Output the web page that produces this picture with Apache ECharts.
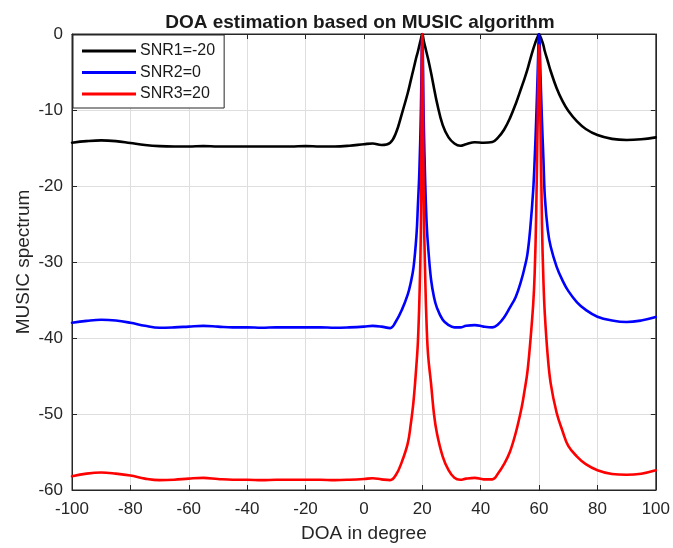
<!DOCTYPE html>
<html>
<head>
<meta charset="utf-8">
<script src="https://cdn.jsdelivr.net/npm/echarts@6/dist/echarts.min.js"></script>
<style>
html,body{margin:0;padding:0;background:#fff;}
#chart{width:673px;height:548px;}
</style>
</head>
<body>
<div id="chart"></div>
<script>
const doa = [-100,-95,-90,-85,-80,-75,-70,-65,-60,-55,-50,-45,-40,-35,-30,-25,-20,-15,-10,-5,0,3,6,9,11,13,15,16,17,18,18.5,19,19.5,20,20.5,21,21.5,22,23,24,25,27,29,31,33,35,38,41,44,46,48,50,52,54,55,56,57,58,58.5,59,59.5,60,60.5,61,61.5,62,63,64,66,68,70,73,76,80,85,90,95,100];
const snr1 = [-14.3,-14.1,-14.0,-14.1,-14.35,-14.6,-14.75,-14.8,-14.8,-14.75,-14.8,-14.8,-14.8,-14.8,-14.8,-14.8,-14.75,-14.8,-14.8,-14.7,-14.5,-14.4,-14.6,-14.3,-13.0,-10.5,-7.8,-6.2,-4.6,-3.0,-2.3,-1.5,-0.7,0,-0.9,-1.7,-2.5,-3.3,-5.1,-7.1,-9.0,-12.0,-13.6,-14.4,-14.7,-14.5,-14.25,-14.3,-14.2,-13.6,-12.6,-11.1,-9.2,-7.0,-5.9,-4.7,-3.3,-2.0,-1.4,-0.85,-0.4,0,-0.4,-0.9,-1.5,-2.3,-3.6,-4.9,-7.1,-8.8,-10.1,-11.5,-12.5,-13.3,-13.8,-13.95,-13.85,-13.6];
const snr2 = [-38.0,-37.75,-37.6,-37.7,-38.0,-38.4,-38.65,-38.6,-38.5,-38.4,-38.5,-38.6,-38.6,-38.65,-38.6,-38.6,-38.6,-38.6,-38.65,-38.6,-38.5,-38.4,-38.5,-38.7,-37.8,-36.3,-34.3,-32.8,-30.7,-26.5,-22.5,-18.0,-10.5,0,-11.5,-19.5,-25.0,-28.0,-32.3,-34.6,-36.0,-37.6,-38.3,-38.6,-38.6,-38.4,-38.3,-38.5,-38.6,-38.2,-37.3,-36.0,-34.6,-32.3,-30.8,-29.0,-25.5,-20.5,-16.5,-11.5,-5.5,0,-5.5,-11.5,-16.5,-21.5,-25.8,-28.0,-30.6,-32.4,-33.8,-35.3,-36.3,-37.2,-37.7,-37.9,-37.7,-37.25];
const snr3 = [-58.2,-57.85,-57.7,-57.85,-58.1,-58.5,-58.7,-58.65,-58.5,-58.4,-58.55,-58.65,-58.65,-58.7,-58.65,-58.65,-58.65,-58.65,-58.7,-58.65,-58.55,-58.45,-58.6,-58.7,-58.0,-56.3,-53.9,-51.5,-48.3,-43.5,-40.5,-35.0,-26.0,0,-22.0,-32.0,-38.5,-42.3,-46.0,-50.0,-52.5,-55.6,-57.4,-58.4,-58.65,-58.5,-58.4,-58.6,-58.6,-57.8,-56.6,-55.0,-52.5,-49.2,-47.0,-44.5,-40.5,-35.5,-31.5,-24.0,-12.0,-1.5,-12.0,-25.0,-32.5,-37.0,-42.5,-46.0,-49.8,-52.2,-54.2,-55.6,-56.6,-57.4,-57.9,-58.0,-57.85,-57.4];
const seriesNames = ['SNR1=-20','SNR2=0','SNR3=20'];
const seriesColors = ['#000000','#0000ff','#ff0000'];
const titleText = 'DOA estimation based on MUSIC algorithm';
const xName = 'DOA in degree';
const yName = 'MUSIC spectrum';

const FONT = '"Liberation Sans", Arial, sans-serif';
const axisColor = '#262626';
const gridColor = '#dedede';
const chart = echarts.init(document.getElementById('chart'), null, {renderer:'canvas'});
const allData = [snr1, snr2, snr3];
const series = allData.map((arr, k) => ({
  name: seriesNames[k],
  type: 'line',
  data: doa.map((x, i) => [x, arr[i]]),
  symbol: 'none',
  smooth: 0.4,
  lineStyle: {color: seriesColors[k], width: 2.6, join: 'round', cap: 'round'},
  itemStyle: {color: seriesColors[k]},
  z: 2 + k,
  animation: false
}));
const tickStyle = {show: true, inside: true, length: 5, lineStyle: {color: axisColor}};
const lineStyleAx = {show: true, onZero: false, lineStyle: {color: axisColor, width: 1}};
chart.setOption({
  backgroundColor: '#ffffff',
  animation: false,
  title: {
    text: titleText, left: 355, top: 8, textAlign: 'center',
    textStyle: {fontFamily: FONT, fontSize: 19, fontWeight: 'bold', color: '#1a1a1a'}
  },
  legend: {
    orient: 'vertical', left: 73, top: 35,
    itemWidth: 54, itemHeight: 3, itemGap: 5.5,
    icon: 'rect',
    padding: [8, 9, 6, 9],
    borderColor: axisColor, borderWidth: 1,
    backgroundColor: '#ffffff',
    textStyle: {fontFamily: FONT, fontSize: 16, color: '#1a1a1a', padding: [0, 0, 0, -1]},
    data: seriesNames
  },
  grid: {left: 72, right: 15, top: 34, bottom: 58, show: true, borderColor: axisColor, borderWidth: 1, backgroundColor: 'transparent'},
  xAxis: [
    {
      type: 'value', min: -100, max: 100, interval: 20,
      position: 'bottom',
      name: xName, nameLocation: 'middle', nameGap: 34, nameMoveOverlap: false,
      nameTextStyle: {fontFamily: FONT, fontSize: 19, color: axisColor},
      axisLine: lineStyleAx,
      axisTick: tickStyle,
      axisLabel: {fontFamily: FONT, fontSize: 17, color: axisColor, margin: 11},
      splitLine: {show: true, lineStyle: {color: gridColor, width: 1}}
    },
    {
      type: 'value', min: -100, max: 100, interval: 20,
      position: 'top',
      axisLine: lineStyleAx,
      axisTick: tickStyle,
      axisLabel: {show: false},
      splitLine: {show: false}
    }
  ],
  yAxis: [
    {
      type: 'value', min: -60, max: 0, interval: 10,
      position: 'left',
      name: yName, nameLocation: 'middle', nameGap: 39, nameMoveOverlap: false,
      nameTextStyle: {fontFamily: FONT, fontSize: 19, color: axisColor},
      axisLine: lineStyleAx,
      axisTick: tickStyle,
      axisLabel: {fontFamily: FONT, fontSize: 17, color: axisColor, margin: 9},
      splitLine: {show: true, lineStyle: {color: gridColor, width: 1}}
    },
    {
      type: 'value', min: -60, max: 0, interval: 10,
      position: 'right',
      axisLine: lineStyleAx,
      axisTick: tickStyle,
      axisLabel: {show: false},
      splitLine: {show: false}
    }
  ],
  series: series
});
</script>
</body>
</html>
